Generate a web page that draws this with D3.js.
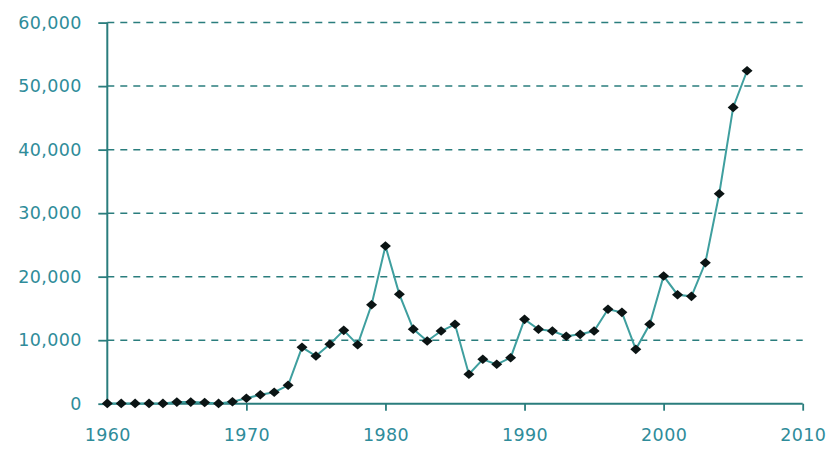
<!DOCTYPE html>
<html>
<head>
<meta charset="utf-8">
<script src="https://cdn.jsdelivr.net/npm/d3@7"></script>
<style>
  html, body { margin: 0; padding: 0; background: #fff; }
  svg { display: block; }
  .tick-label { font-family: "DejaVu Sans", Verdana, sans-serif; font-size: 17.5px; letter-spacing: 0.4px; fill: #2f8c9a; }
</style>
</head>
<body>
<svg id="chart" width="831" height="449"></svg>
<script>
const years = [1960,1961,1962,1963,1964,1965,1966,1967,1968,1969,
               1970,1971,1972,1973,1974,1975,1976,1977,1978,1979,
               1980,1981,1982,1983,1984,1985,1986,1987,1988,1989,
               1990,1991,1992,1993,1994,1995,1996,1997,1998,1999,
               2000,2001,2002,2003,2004,2005,2006];
const values = [50,50,50,50,50,250,250,200,50,300,
                850,1400,1800,2900,8880,7500,9350,11550,9290,15580,
                24820,17220,11740,9870,11440,12500,4630,6990,6200,7240,
                13280,11710,11440,10610,10920,11440,14860,14380,8560,12500,
                20100,17160,16900,22180,33050,46650,52420];
const xTicks = [1960,1970,1980,1990,2000,2010];
const yTicks = [0,10000,20000,30000,40000,50000,60000];

const svg = d3.select("#chart");
const mLeft = 107.3, mRight = 802.7, mTop = 22.6, mBottom = 403.7;
const x = d3.scaleLinear().domain([1960, 2010]).range([mLeft, mRight]);
const y = d3.scaleLinear().domain([0, 60000]).range([mBottom, mTop]);

const axisColor = "#2a7d7d";
const fmt = d3.format(",");

// gridlines (dashed)
svg.append("g").selectAll("line").data(yTicks.filter(d => d > 0)).join("line")
  .attr("x1", mLeft).attr("x2", mRight)
  .attr("y1", d => y(d)).attr("y2", d => y(d))
  .attr("stroke", axisColor).attr("stroke-width", 1.5)
  .attr("stroke-dasharray", "7,6");

// y axis
const yAxis = d3.axisLeft(y).tickValues(yTicks).tickSize(9).tickFormat(fmt).tickPadding(6);
const gy = svg.append("g").attr("transform", `translate(${mLeft},0)`).call(yAxis);
gy.select(".domain").attr("stroke", axisColor).attr("stroke-width", 2).attr("d", `M0,${mTop}V${mBottom}`);
gy.selectAll(".tick line").attr("stroke", axisColor).attr("stroke-width", 1.8);
gy.selectAll(".tick text").attr("class", "tick-label").attr("x", -25.5);
gy.attr("font-family", null).attr("font-size", null);

// x axis
const xAxis = d3.axisBottom(x).tickValues(xTicks).tickSize(7).tickFormat(d3.format("d")).tickPadding(18);
const gx = svg.append("g").attr("transform", `translate(0,${mBottom})`).call(xAxis);
gx.select(".domain").attr("stroke", axisColor).attr("stroke-width", 2).attr("d", `M${mLeft},0H${mRight}`);
gx.selectAll(".tick line").attr("stroke", axisColor).attr("stroke-width", 1.8)
  .attr("opacity", d => d === 1960 ? 0 : 1);
gx.selectAll(".tick text").attr("class", "tick-label");
gx.attr("font-family", null).attr("font-size", null);

const data = years.map((yr, i) => ({yr, v: values[i]}));

// line
svg.append("path").datum(data)
  .attr("fill", "none")
  .attr("stroke", "#3f9f9f")
  .attr("stroke-width", 2)
  .attr("d", d3.line().x(d => x(d.yr)).y(d => y(d.v)));

// markers (diamonds)
svg.append("g").selectAll("path").data(data).join("path")
  .attr("transform", d => `translate(${x(d.yr)},${y(d.v)})`)
  .attr("d", "M-5.5,0L0,-4.8L5.5,0L0,4.8Z")
  .attr("fill", "#0b1414");
</script>
</body>
</html>
